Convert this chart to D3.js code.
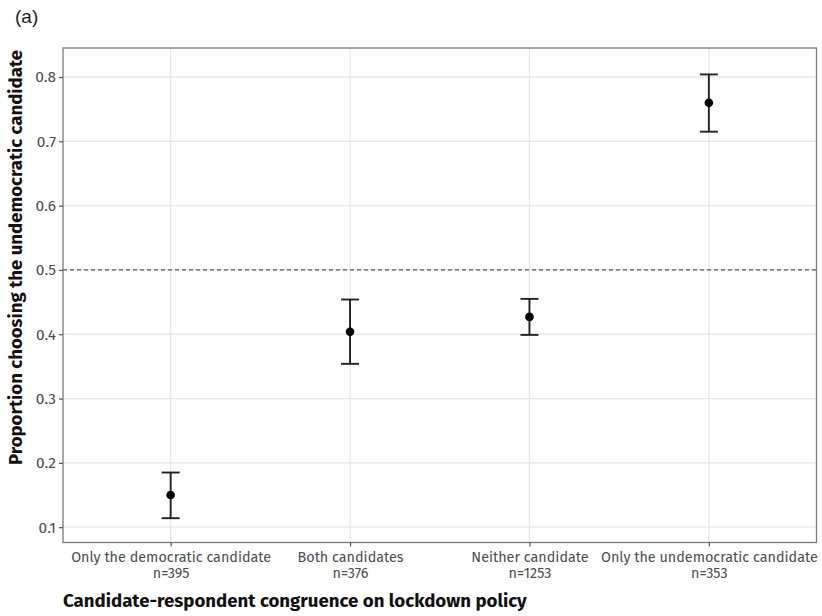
<!DOCTYPE html>
<html><head><meta charset="utf-8">
<script src="https://cdn.jsdelivr.net/npm/d3@7"></script>
<style>body{margin:0;background:#fff}</style>
</head><body>
<svg id="chart" width="822" height="616"></svg>
<script>
const categories = ["Only the democratic candidate","Both candidates","Neither candidate","Only the undemocratic candidate"];
const sampleSizes = ["n=395","n=376","n=1253","n=353"];
const estimates = [0.150, 0.404, 0.427, 0.760];
const lowerCI = [0.114, 0.354, 0.399, 0.715];
const upperCI = [0.185, 0.454, 0.455, 0.804];
const yTicks = [0.1,0.2,0.3,0.4,0.5,0.6,0.7,0.8];
const refLine = 0.5;
const yTitle = "Proportion choosing the undemocratic candidate";
const xTitle = "Candidate-respondent congruence on lockdown policy";
const panelLabel = "(a)";

const svg = d3.select("#chart");
const L = 63, R = 816.5, T = 48, B = 542.5;
const font = "'Fira Sans','Open Sans','Noto Sans',sans-serif";

function fit(sel, target){
  const w = sel.node().getComputedTextLength();
  const fs = parseFloat(sel.style("font-size"));
  sel.style("font-size", (fs*target/w).toFixed(2)+"px");
}

const x = d3.scalePoint().domain(categories).range([L, R]).padding(0.6);
const y = d3.scaleLinear().domain([0.0762, 0.8451]).range([B, T]);

svg.append("rect").attr("x",L).attr("y",T).attr("width",R-L).attr("height",B-T).attr("fill","#fff");
const g = svg.append("g");
g.selectAll("line.hy").data(yTicks).join("line")
  .attr("x1",L).attr("x2",R).attr("y1",d=>y(d)).attr("y2",d=>y(d))
  .attr("stroke","#e8e8e8").attr("stroke-width",1.3);
g.selectAll("line.vx").data(categories).join("line")
  .attr("y1",T).attr("y2",B).attr("x1",d=>x(d)).attr("x2",d=>x(d))
  .attr("stroke","#e8e8e8").attr("stroke-width",1.3);
svg.append("line").attr("x1",L).attr("x2",R).attr("y1",y(refLine)).attr("y2",y(refLine))
  .attr("stroke","#555").attr("stroke-width",1.2).attr("stroke-dasharray","4,3");

const idx = d3.range(categories.length);
const eb = svg.append("g").attr("stroke","#222").attr("stroke-width",1.9);
idx.forEach(i=>{
  const cx = x(categories[i]);
  eb.append("line").attr("x1",cx).attr("x2",cx).attr("y1",y(lowerCI[i])).attr("y2",y(upperCI[i]));
  eb.append("line").attr("x1",cx-9).attr("x2",cx+9).attr("y1",y(lowerCI[i])).attr("y2",y(lowerCI[i]));
  eb.append("line").attr("x1",cx-9).attr("x2",cx+9).attr("y1",y(upperCI[i])).attr("y2",y(upperCI[i]));
});
svg.append("g").selectAll("circle").data(idx).join("circle")
  .attr("cx",i=>x(categories[i])).attr("cy",i=>y(estimates[i])).attr("r",4.3).attr("fill","#000");

svg.append("rect").attr("x",L).attr("y",T).attr("width",R-L).attr("height",B-T)
  .attr("fill","none").attr("stroke","#7a7a7a").attr("stroke-width",1.3);

// y axis
const ya = svg.append("g").attr("transform",`translate(${L},0)`)
  .call(d3.axisLeft(y).tickValues(yTicks).tickSize(4).tickPadding(3).tickFormat(d3.format(".1f")));
ya.select(".domain").remove();
ya.selectAll(".tick line").attr("stroke","#555").attr("stroke-width",1.2);
ya.selectAll(".tick text").attr("fill","#4d4d4d").style("font-family",font).style("font-size","12px");
const ytf = ya.select(".tick text");
fit(ytf, 17.5);
ya.selectAll(".tick text").style("font-size", ytf.style("font-size"));

// x axis
const xa = svg.append("g").attr("transform",`translate(0,${B})`)
  .call(d3.axisBottom(x).tickSize(4).tickPadding(3).tickFormat(()=>""));
xa.select(".domain").remove();
xa.selectAll(".tick line").attr("stroke","#555").attr("stroke-width",1.2);
xa.selectAll(".tick text").remove();
const probe = svg.append("text").style("font-family",font).style("font-size","12px").text(categories[0]);
fit(probe, 200);
const xfs = probe.style("font-size");
probe.remove();
xa.selectAll(".tick").each(function(d){
  const i = categories.indexOf(d);
  const t = d3.select(this);
  t.append("text").attr("fill","#4d4d4d").attr("text-anchor","middle").style("font-family",font)
    .style("font-size",xfs).attr("x",0).attr("y",19.6).text(categories[i]);
  t.append("text").attr("fill","#4d4d4d").attr("text-anchor","middle").style("font-family",font)
    .style("font-size",xfs).attr("x",0).attr("y",35.2).text(sampleSizes[i]);
});

// titles
const yt = svg.append("text").attr("transform",`translate(22,257.5) rotate(-90)`)
  .attr("text-anchor","middle").style("font-family",font).style("font-size","15px")
  .style("font-weight","bold").attr("fill","#111").text(yTitle);
fit(yt, 415);
const xt = svg.append("text").attr("x",L).attr("y",606.7)
  .style("font-family",font).style("font-size","15px")
  .style("font-weight","bold").attr("fill","#111").text(xTitle);
fit(xt, 464);
svg.append("text").attr("x",15).attr("y",23)
  .style("font-family","'Liberation Sans',Arial,sans-serif").style("font-size","19px")
  .attr("fill","#222").text(panelLabel);
</script>
</body></html>
